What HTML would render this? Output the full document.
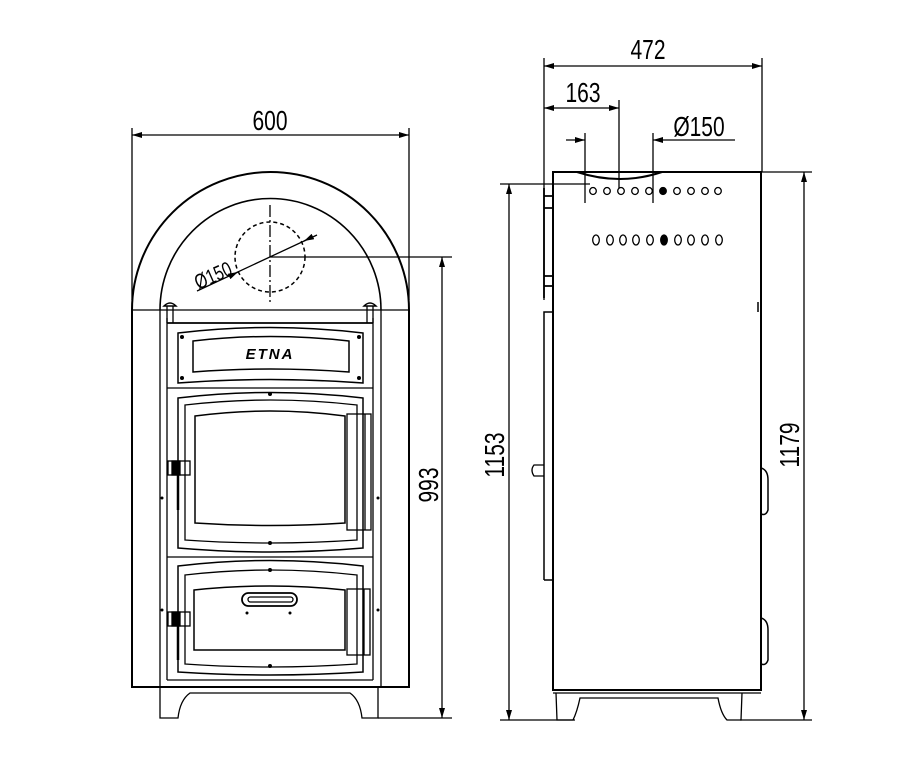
<!DOCTYPE html>
<html><head><meta charset="utf-8"><style>
html,body{margin:0;padding:0;background:#fff;}
svg{display:block;}
text{font-family:"Liberation Sans Narrow","Liberation Sans",sans-serif;fill:#000;}
</style></head><body>
<svg width="900" height="771" viewBox="0 0 900 771" xmlns="http://www.w3.org/2000/svg">
<defs>
<marker id="a" viewBox="0 0 10 6" refX="10" refY="3" markerWidth="10" markerHeight="6" orient="auto-start-reverse" markerUnits="userSpaceOnUse"><path d="M0,0 L10,3 L0,6z" fill="#000"/></marker>
</defs>
<g fill="none" stroke="#000" stroke-width="1.3">
<line x1="132" y1="128" x2="132" y2="300"/>
<line x1="409" y1="128" x2="409" y2="300"/>
<line x1="132" y1="135" x2="409" y2="135" marker-start="url(#a)" marker-end="url(#a)"/>
<path d="M132,687 L132,310 A138.5,138 0 0 1 409,310 L409,687 Z" stroke-width="2"/>
<path d="M160,310 A110,111 0 0 1 381,310" stroke-width="1.6"/>
<line x1="132" y1="310" x2="409" y2="310"/>
<line x1="160" y1="310" x2="160" y2="687"/>
<line x1="167" y1="318" x2="167" y2="680"/>
<line x1="381" y1="310" x2="381" y2="687"/>
<line x1="373" y1="318" x2="373" y2="680"/>
<path d="M164,306 q6,-6 12,0 z" stroke-width="1.5"/>
<line x1="167" y1="306" x2="167" y2="323"/><line x1="173" y1="306" x2="173" y2="323"/>
<path d="M364,306 q6,-6 12,0 z" stroke-width="1.5"/>
<line x1="367" y1="306" x2="367" y2="323"/><line x1="373" y1="306" x2="373" y2="323"/>
<line x1="167" y1="323" x2="373" y2="323" stroke-width="1.8"/>
<path d="M178,333 Q270,322 363,333 L363,383 Q270,376 178,383 Z" stroke-width="1.5"/>
<path d="M193,341 Q270,332 349,341 L349,372 Q270,366 193,372 Z" stroke-width="1.5"/>
<line x1="167" y1="388" x2="373" y2="388"/>
<path d="M178,398 Q270,387 363,398 L363,548 Q270,556 178,548 Z" stroke-width="1.5"/>
<path d="M185,405 Q270,395 357,405 L357,540 Q270,546 185,540 Z"/>
<path d="M195,416 Q270,406 345,416 L345,523 Q270,528 195,523 Z" stroke-width="1.5"/>
<rect x="347" y="414" width="24" height="116"/>
<line x1="365" y1="414" x2="365" y2="530"/>
<line x1="167" y1="557" x2="373" y2="557"/>
<path d="M178,566 Q270,555 363,566 L363,672 Q270,678 178,672 Z" stroke-width="1.5"/>
<path d="M185,575 Q270,565 357,575 L357,664 Q270,670 185,664 Z"/>
<path d="M194,590 Q270,582 345,590 L345,650 L194,650 Z" stroke-width="1.5"/>
<rect x="347" y="589" width="23" height="66"/>
<line x1="364" y1="589" x2="364" y2="655"/>
<rect x="242" y="593" width="55" height="13" rx="6.5" stroke-width="1.8"/>
<rect x="248" y="597" width="45" height="5" rx="2.5"/>
<rect x="168" y="461" width="22" height="14"/><rect x="172" y="461" width="8" height="14" fill="#000"/>
<rect x="168" y="612" width="22" height="14"/><rect x="172" y="612" width="8" height="14" fill="#000"/>
<line x1="178" y1="475" x2="178" y2="510" stroke-width="2.5"/>
<line x1="178" y1="626" x2="178" y2="660" stroke-width="2.5"/>
<line x1="167" y1="680" x2="373" y2="680"/>
<line x1="160" y1="687" x2="381" y2="687"/>
<path d="M160,687 L160,718 L178,718 Q180,700 190,693 L350,693 Q360,700 362,718 L378,718 L378,687"/>
<circle cx="270" cy="257" r="35" stroke-dasharray="4,3" stroke-width="1.5"/>
<line x1="270" y1="205" x2="270" y2="303" stroke-dasharray="12,3,2,3"/>
<line x1="197" y1="291" x2="317" y2="235"/>
<line x1="236" y1="273" x2="238" y2="272" marker-end="url(#a)"/>
<line x1="306" y1="240" x2="304" y2="241" marker-end="url(#a)"/>
<line x1="270" y1="257" x2="452" y2="257"/>
<line x1="378" y1="718" x2="452" y2="718"/>
<line x1="442" y1="257" x2="442" y2="718" marker-start="url(#a)" marker-end="url(#a)"/>

<line x1="544" y1="58" x2="544" y2="300"/>
<line x1="762" y1="58" x2="762" y2="172"/>
<line x1="544" y1="66" x2="762" y2="66" marker-start="url(#a)" marker-end="url(#a)"/>
<line x1="619" y1="100" x2="619" y2="188"/>
<line x1="544" y1="108" x2="619" y2="108" marker-start="url(#a)" marker-end="url(#a)"/>
<line x1="585" y1="133" x2="585" y2="203"/>
<line x1="653" y1="133" x2="653" y2="203"/>
<line x1="566" y1="140" x2="585" y2="140" marker-end="url(#a)"/>
<line x1="735" y1="140" x2="653" y2="140" marker-end="url(#a)"/>
<path d="M553,690 L553,172 L761,172 L761,690 Z" stroke-width="2"/>
<path d="M577,172 Q620,186 662,172" stroke-width="2"/>
<line x1="500" y1="184" x2="590" y2="184"/>
<path d="M544,188 L544,298 M544,196 L553,196 M544,208 L553,208 M544,276 L553,276 M544,286 L553,286" stroke-width="1.8"/>
<path d="M544,580 L544,312 L553,312 M544,580 L553,580" stroke-width="1.5"/>
<path d="M544,465 L534,465 Q530,470 534,476 L544,476"/>
<path d="M761,468 Q768,470 768,480 L768,510 Q766,516 761,514" stroke-width="1.5"/>
<path d="M761,618 Q768,620 768,630 L768,660 Q766,666 761,664" stroke-width="1.5"/>
<line x1="758" y1="302" x2="758" y2="312" stroke-width="1.5"/>
<line x1="553" y1="693" x2="761" y2="693"/>
<path d="M556,693 L557,720 L573,720 Q577,712 580,698 L718,698 Q721,714 727,720 L741,720 L742,693"/>
<line x1="509" y1="184" x2="509" y2="720" marker-start="url(#a)" marker-end="url(#a)"/>
<line x1="500" y1="720" x2="575" y2="720"/>
<line x1="761" y1="172" x2="812" y2="172"/>
<line x1="740" y1="720" x2="812" y2="720"/>
<line x1="804" y1="172" x2="804" y2="720" marker-start="url(#a)" marker-end="url(#a)"/>
</g>
<g fill="none" stroke="#000" stroke-width="1.3">
<ellipse cx="593" cy="191" rx="3.3" ry="3.5"/><ellipse cx="607" cy="191" rx="3.3" ry="3.5"/><ellipse cx="621" cy="191" rx="3.3" ry="3.5"/><ellipse cx="635" cy="191" rx="3.3" ry="3.5"/><ellipse cx="649" cy="191" rx="3.3" ry="3.5"/><ellipse cx="663" cy="191" rx="3.3" ry="3.5" fill="#000"/><ellipse cx="677" cy="191" rx="3.3" ry="3.5"/><ellipse cx="691" cy="191" rx="3.3" ry="3.5"/><ellipse cx="705" cy="191" rx="3.3" ry="3.5"/><ellipse cx="718" cy="191" rx="3.3" ry="3.5"/>
<ellipse cx="596" cy="240" rx="3.3" ry="5"/><ellipse cx="610" cy="240" rx="3.3" ry="5"/><ellipse cx="623" cy="240" rx="3.3" ry="5"/><ellipse cx="636" cy="240" rx="3.3" ry="5"/><ellipse cx="650" cy="240" rx="3.3" ry="5"/><ellipse cx="664" cy="240" rx="3.3" ry="5" fill="#000"/><ellipse cx="678" cy="240" rx="3.3" ry="5"/><ellipse cx="691" cy="240" rx="3.3" ry="5"/><ellipse cx="705" cy="240" rx="3.3" ry="5"/><ellipse cx="719" cy="240" rx="3.3" ry="5"/>
</g>
<g fill="#000">
<circle cx="182" cy="337" r="2"/><circle cx="359" cy="337" r="2"/><circle cx="182" cy="378" r="2"/><circle cx="359" cy="378" r="2"/>
<circle cx="270" cy="543" r="2"/><circle cx="270" cy="666" r="2"/><circle cx="270" cy="570" r="2"/><circle cx="270" cy="394" r="2"/>
<circle cx="162" cy="498" r="1.5"/><circle cx="378" cy="498" r="1.5"/><circle cx="162" cy="610" r="1.5"/><circle cx="378" cy="610" r="1.5"/>
<circle cx="247" cy="613" r="1.5"/><circle cx="290" cy="613" r="1.5"/>
</g>
<text x="270" y="359" font-size="15" font-weight="bold" font-style="italic" text-anchor="middle" font-family="Liberation Sans,sans-serif" letter-spacing="2">ETNA</text>
<g font-size="28">
<text x="270" y="130" text-anchor="middle" transform="translate(270,0) scale(0.75,1) translate(-270,0)">600</text>
<text x="648" y="59" text-anchor="middle" transform="translate(648,0) scale(0.75,1) translate(-648,0)">472</text>
<text x="583" y="102" text-anchor="middle" transform="translate(583,0) scale(0.75,1) translate(-583,0)">163</text>
<text x="699" y="136" text-anchor="middle" transform="translate(699,0) scale(0.75,1) translate(-699,0)">Ø150</text>
<text transform="translate(438,485) rotate(-90) scale(0.75,1)" text-anchor="middle">993</text>
<text transform="translate(504,455) rotate(-90) scale(0.75,1)" text-anchor="middle">1153</text>
<text transform="translate(799,445) rotate(-90) scale(0.75,1)" text-anchor="middle">1179</text>
<text transform="translate(216,282) rotate(-24) scale(0.75,1)" font-size="21" text-anchor="middle">Ø150</text>
</g>
</svg>
</body></html>
